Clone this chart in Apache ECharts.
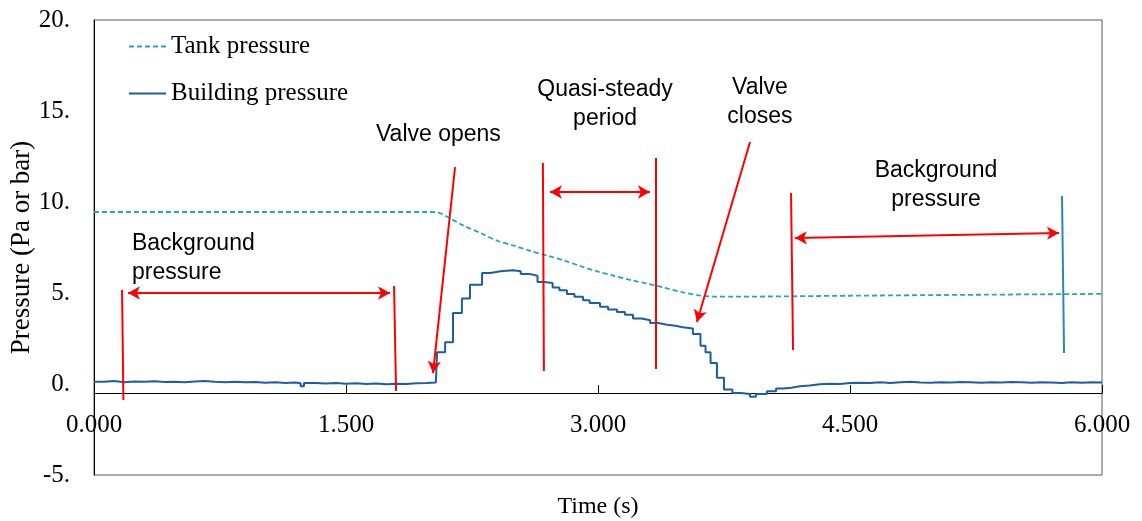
<!DOCTYPE html>
<html>
<head>
<meta charset="utf-8">
<script src="https://cdn.jsdelivr.net/npm/echarts@6/dist/echarts.min.js"></script>
<style>
  html, body { margin: 0; padding: 0; background: #fff; }
  #chart { width: 1142px; height: 521px; }
</style>
</head>
<body>
<div id="chart"></div>
<script>
// time in ms (axis labels show seconds with 3 decimals), pressure in Pa or bar
const tankPressure = [
  [0, 9.45], [1000, 9.45], [2000, 9.45], [2050, 9.42], [2100, 9.2], [2200, 8.7],
  [2300, 8.3], [2400, 7.87], [2500, 7.6], [2600, 7.3], [2700, 7.05], [2800, 6.78],
  [2900, 6.46], [3000, 6.18], [3100, 5.93], [3200, 5.7], [3300, 5.5], [3400, 5.28],
  [3500, 5.05], [3600, 4.87], [3700, 4.8], [3800, 4.8], [4500, 4.85], [5200, 4.9],
  [6000, 4.95]
];

// staircase signal, each value holds until the next time
const buildingPressure = [
  [0, 0.12], [60, 0.16], [120, 0.10], [180, 0.14], [240, 0.12], [300, 0.15], [360, 0.11],
  [420, 0.13], [480, 0.10], [540, 0.14], [600, 0.16], [660, 0.12], [720, 0.10], [780, 0.13],
  [840, 0.09], [900, 0.11], [960, 0.07], [1020, 0.09], [1080, 0.05], [1140, 0.08],
  [1200, 0.04], [1230, -0.12], [1250, 0.05], [1320, 0.03], [1380, 0.06], [1440, 0.02],
  [1500, 0.04], [1560, 0.00], [1620, 0.03], [1680, -0.01], [1740, 0.02], [1800, 0.00],
  [1860, 0.04], [1920, 0.06], [1980, 0.08], [2035, 0.10],
  [2042, 1.75], [2090, 2.3], [2137, 3.9], [2190, 4.7], [2238, 5.45], [2310, 6.1],
  [2360, 6.2], [2420, 6.25], [2494, 6.2], [2540, 6.05], [2590, 5.95], [2640, 5.6],
  [2680, 5.55], [2730, 5.3], [2770, 5.15], [2815, 4.95], [2860, 4.8], [2911, 4.6],
  [2950, 4.45], [3012, 4.25], [3060, 4.1], [3113, 3.95], [3160, 3.8], [3208, 3.6],
  [3260, 3.5], [3310, 3.35], [3360, 3.25], [3411, 3.2], [3460, 3.12], [3506, 3.05],
  [3565, 2.75], [3610, 2.1], [3640, 1.75], [3670, 1.15], [3708, 0.35], [3750, -0.3],
  [3800, -0.5], [3850, -0.55], [3905, -0.7], [3940, -0.55], [4006, -0.4], [4060, -0.25],
  [4101, -0.2], [4150, -0.12], [4202, -0.08], [4260, -0.02], [4320, 0.02], [4380, 0.0],
  [4440, 0.05], [4500, 0.07], [4560, 0.05], [4620, 0.09], [4680, 0.06], [4740, 0.10],
  [4800, 0.13], [4860, 0.08], [4920, 0.07], [4980, 0.10], [5040, 0.08], [5100, 0.11],
  [5160, 0.09], [5220, 0.07], [5280, 0.10], [5340, 0.08], [5400, 0.11], [5460, 0.09],
  [5520, 0.07], [5580, 0.10], [5640, 0.08], [5700, 0.06], [5760, 0.09], [5820, 0.07],
  [5880, 0.10], [5940, 0.08], [6000, 0.09]
];

const xTicks = [0, 1500, 3000, 4500, 6000];
const yTicks = [-5, 0, 5, 10, 15, 20];

// annotation marks, in data coordinates
const markerLines = [
  [[167, 5.16], [175, -0.88]],
  [[1786, 5.38], [1798, -0.38]],
  [[2672, 12.14], [2678, 0.71]],
  [[3345, 12.42], [3345, 0.82]],
  [[4149, 10.49], [4161, 1.87]]
];
const blueMarker = [[5762, 10.33], [5774, 1.70]];
const doubleArrows = [
  [[202, 5.0], [1762, 5.0]],
  [[2714, 10.55], [3309, 10.55]],
  [[4172, 8.02], [5744, 8.30]]
];
const singleArrows = [
  [[2149, 11.92], [2018, 0.6]],
  [[3905, 13.3], [3589, 3.41]]
];
const notes = [
  { text: 'Background\npressure', at: [226, 6.9], align: 'left' },
  { text: 'Valve opens', at: [2050, 13.7], align: 'center' },
  { text: 'Quasi-steady\nperiod', at: [3042, 15.4], align: 'center' },
  { text: 'Valve\ncloses', at: [3964, 15.5], align: 'center' },
  { text: 'Background\npressure', at: [5012, 10.95], align: 'center' }
];

const serif = '"Liberation Serif", "Times New Roman", serif';
const sans = '"Liberation Sans", Arial, sans-serif';
const red = '#FF0000';

const toSeg = (s, style) => [Object.assign({ coord: s[0] }, style || {}), { coord: s[1] }];

const chart = echarts.init(document.getElementById('chart'));
chart.setOption({
  animation: false,
  grid: {
    left: 94, right: 40, top: 20, bottom: 46,
    containLabel: false, outerBoundsMode: 'none',
    show: true, borderColor: '#595959', borderWidth: 1
  },
  legend: {
    orient: 'vertical', left: 128, top: 34, itemGap: 22, padding: 0,
    itemWidth: 37, itemHeight: 14,
    itemStyle: { opacity: 0 },
    textStyle: { fontFamily: serif, fontSize: 25, color: '#000' },
    data: ['Tank pressure', 'Building pressure']
  },
  xAxis: {
    type: 'value', min: 0, max: 6000, interval: 1500,
    offset: -82,
    axisLine: { onZero: false, lineStyle: { color: '#000', width: 1 } },
    axisTick: { show: true, inside: true, length: 8, lineStyle: { color: '#000' } },
    axisLabel: {
      margin: 20, fontFamily: serif, fontSize: 25, color: '#000',
      formatter: (v) => xTicks.includes(v) ? (v / 1000).toFixed(3) : ''
    },
    splitLine: { show: false },
    name: 'Time (s)', nameLocation: 'middle', nameGap: 102, nameMoveOverlap: false,
    nameTextStyle: { fontFamily: serif, fontSize: 24, color: '#000' }
  },
  yAxis: {
    type: 'value', min: -5, max: 20, interval: 5,
    axisLine: { show: true, lineStyle: { color: '#000', width: 1 } },
    axisTick: { show: false },
    axisLabel: {
      margin: 24, fontFamily: serif, fontSize: 25, color: '#000',
      formatter: (v) => yTicks.includes(v) ? v + '.' : ''
    },
    splitLine: { show: false },
    name: 'Pressure (Pa or bar)', nameLocation: 'middle', nameGap: 59, nameMoveOverlap: false,
    nameTextStyle: { fontFamily: serif, fontSize: 27, color: '#000' }
  },
  series: [
    {
      name: 'Tank pressure', type: 'line', data: tankPressure,
      symbol: 'none', smooth: 0.3,
      lineStyle: { color: '#22A3CC', width: 1.8, type: [5, 3] },
      itemStyle: { color: '#22A3CC' },
      z: 3
    },
    {
      name: 'Building pressure', type: 'line', data: buildingPressure,
      symbol: 'none', step: 'end',
      lineStyle: { color: '#1B5FA3', width: 2 },
      itemStyle: { color: '#1B5FA3' },
      z: 4,
      markLine: {
        silent: true, symbol: ['none', 'none'], label: { show: false },
        lineStyle: { color: red, width: 2, type: 'solid' },
        data: markerLines.map((s) => toSeg(s)).concat([
          toSeg(blueMarker, { lineStyle: { color: '#2E86B5', width: 2, type: 'solid' } })
        ])
      }
    },
    {
      name: 'arrows', type: 'line', data: [],
      markLine: {
        silent: true, symbol: ['arrow', 'arrow'], symbolSize: [10, 12],
        label: { show: false },
        lineStyle: { color: red, width: 2, type: 'solid' },
        data: doubleArrows.map((s) => toSeg(s))
      }
    },
    {
      name: 'pointers', type: 'line', data: [],
      markLine: {
        silent: true, symbol: ['none', 'arrow'], symbolSize: [10, 12],
        label: { show: false },
        lineStyle: { color: red, width: 2, type: 'solid' },
        data: singleArrows.map((s) => toSeg(s))
      }
    }
  ]
});

chart.setOption({
  graphic: notes.map((n) => {
    const p = chart.convertToPixel({ gridIndex: 0 }, n.at);
    return {
      type: 'text', x: p[0], y: p[1], silent: true,
      style: {
        text: n.text, fill: '#000', font: '23px ' + sans,
        align: n.align, verticalAlign: 'middle', lineHeight: 29
      }
    };
  })
});
</script>
</body>
</html>
